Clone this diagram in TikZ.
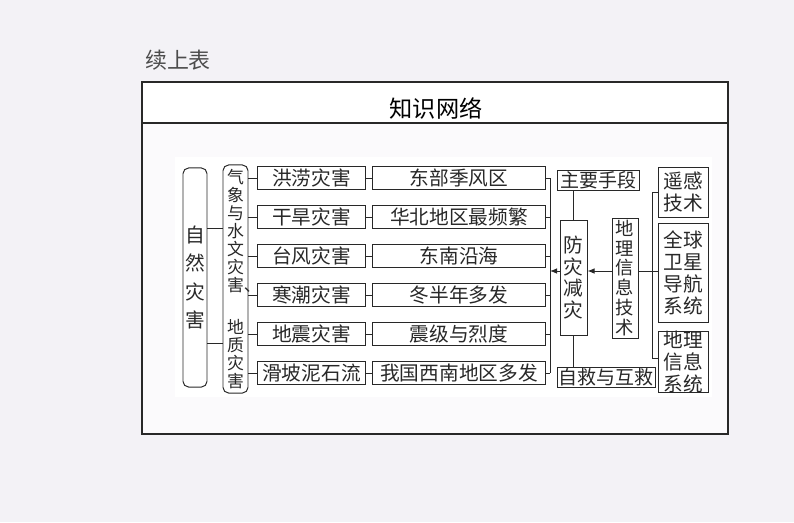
\documentclass[tikz,border=0pt]{standalone}
\usepackage{fontspec}
\newfontfamily\cjk{Noto Sans CJK SC}
\usetikzlibrary{positioning,arrows.meta}
\definecolor{pagebg}{RGB}{243,242,246}
\definecolor{framebg}{RGB}{251,250,252}
\definecolor{inkgray}{RGB}{40,40,40}

\begin{document}
\begin{tikzpicture}[x=0.025cm,y=-0.025cm,line width=0.7pt,
    box/.style={draw=inkgray,inner sep=0pt,text=inkgray,font=\cjk\fontsize{14}{16}\selectfont},
    row box/.style={box,minimum height=0.575cm},
    col box/.style={box,align=center},
    side box/.style={col box,font=\cjk\fontsize{14}{15.6}\selectfont,minimum width=1.25cm},
    link/.style={draw=inkgray}]

  \useasboundingbox (0,0) rectangle (794,522);
  \fill[pagebg] (0,0) rectangle (794,522);
  \fill[framebg] (142,82) rectangle (728,434);
  \fill[white] (142,82) rectangle (728,123);
  \fill[white] (175,157) rectangle (712,397);
  \draw[inkgray,line width=0.9pt] (142,82) rectangle (728,434);
  \draw[inkgray,line width=0.9pt] (142,123) -- (728,123);

  \node[text=black!70,font=\cjk\fontsize{15.6}{18}\selectfont] (cont) at (178,60) {续上表};
  \node[text=black,font=\cjk\fontsize{16.5}{18}\selectfont] (title) at (436,109) {知识网络};

  \node[col box,rounded corners=4pt,minimum width=0.6cm,minimum height=5.475cm,
        font=\cjk\fontsize{14}{20.3}\selectfont] (nat) at (195,277.5) {自\\然\\灾\\害};
  \node[col box,rounded corners=4pt,minimum width=0.625cm,minimum height=5.7cm,
        font=\cjk\fontsize{12}{12.8}\selectfont] (cat) at (235.5,279)
        {气\\象\\与\\水\\文\\灾\\害\rlap{、}\\[0.62cm]地\\质\\灾\\害};

  \coordinate (hA) at (0,228);
  \coordinate (hB) at (0,343);
  \draw[link] (nat.east |- hA) -- (cat.west |- hA);
  \draw[link] (nat.east |- hB) -- (cat.west |- hB);

  \coordinate (bus) at (550,0);
  \foreach \y/\dis/\reg [count=\i] in {178/洪涝灾害/东部季风区,217/干旱灾害/华北地区最频繁,
      256/台风灾害/东南沿海,295/寒潮灾害/冬半年多发,334/地震灾害/震级与烈度,373/滑坡泥石流/我国西南地区多发}{
    \node[row box,minimum width=2.675cm] (d\i) at (311.5,\y) {\dis};
    \node[row box,minimum width=4.3cm] (r\i) at (459,\y) {\reg};
    \draw[link] (cat.east |- d\i.west) -- (d\i.west);
    \draw[link] (d\i.east) -- (r\i.west);
    \draw[link] (r\i.east) -- (bus |- r\i.east);
  }
  \draw[link] (bus |- r1.east) -- (bus |- r6.east);

  \node[box,minimum width=2.05cm,minimum height=0.5cm,font=\cjk\fontsize{13.5}{16}\selectfont] (means) at (598.5,180) {主要手段};
  \node[col box,minimum width=0.675cm,minimum height=2.875cm,
        font=\cjk\fontsize{14}{15.4}\selectfont] (prev) at (573.5,277.5) {防\\灾\\减\\灾};
  \node[box,minimum width=2.45cm,minimum height=0.5cm,font=\cjk\fontsize{13.5}{16}\selectfont] (self) at (606,377) {自救与互救};
  \draw[link] (prev.north) -- (prev.north |- means.south);
  \draw[link] (prev.south) -- (prev.south |- self.north);

  \node[col box,minimum width=0.65cm,minimum height=3cm,
        font=\cjk\fontsize{13}{14.2}\selectfont] (geo) at (625,278) {地\\理\\信\\息\\技\\术};

  \coordinate (yArr) at (0,271);
  \draw[link,-{Latex[length=5pt,width=4pt]}] (prev.west |- yArr) -- (bus |- yArr);
  \draw[link,-{Latex[length=5pt,width=4pt]}] (geo.west |- yArr) -- (prev.east |- yArr);

  \node[side box,minimum height=1.25cm] (rs) at (683,192) {遥感\\技术};
  \node[side box,minimum height=2.475cm] (gnss) at (683,272.5) {全球\\卫星\\导航\\系统};
  \node[side box,minimum height=1.5cm] (gis) at (683,362) {地理\\信息\\系统};

  \coordinate (bus2) at (652,0);
  \coordinate (yGis) at (0,358);
  \draw[link] (geo.east |- yArr) -- (gnss.west |- yArr);
  \draw[link] (bus2 |- rs.west) -- (rs.west);
  \draw[link] (bus2 |- yGis) -- (gis.west |- yGis);
  \draw[link] (bus2 |- rs.west) -- (bus2 |- yGis);
\end{tikzpicture}
\end{document}
